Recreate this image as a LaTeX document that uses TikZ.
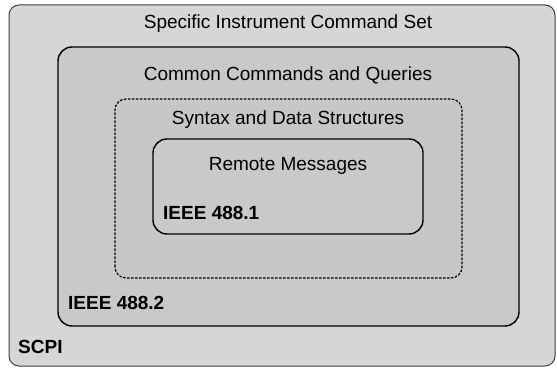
\documentclass[tikz,border=0pt]{standalone}
\usepackage{fontspec}
\setmainfont{Liberation Sans}
\tikzset{
  layer/.style={draw=black, line width=1.4pt, rounded corners=14pt},
  label/.style={font=\fontsize{19}{22}\selectfont, inner sep=0pt},
  tag/.style={font=\fontsize{19}{22}\selectfont\bfseries, inner sep=0pt, anchor=west}
}
\begin{document}
\begin{tikzpicture}[x=1pt,y=1pt]
      \useasboundingbox (0,0) rectangle (557,367);
      \fill[white] (0,0) rectangle (557,367);
      \draw[fill=black!16, draw=black!75, line width=1pt, rounded corners=10pt] (9,1) rectangle (555,362);
      \draw[layer, fill=black!21] (58,41) rectangle (519,320);
      \draw[layer, fill=black!22, line width=1.2pt, dash pattern=on 2.5pt off 1.5pt, rounded corners=11pt] (115,89) rectangle (462,268);
      \draw[layer, fill=black!21] (153,133) rectangle (423,228);
      \node[label] (scs) at (288,343) {Specific Instrument Command Set};
      \node[label] (ccq) at (288,292) {Common Commands and Queries};
      \node[label] (sds) at (288,247) {Syntax and Data Structures};
      \node[label] (rm) at (288,201) {Remote Messages};
      \node[tag] (ieeeone) at (163,154) {IEEE 488.1};
      \node[tag] (ieeetwo) at (68,64) {IEEE 488.2};
      \node[tag] (scpi) at (18,20) {SCPI};
     \end{tikzpicture}
\end{document}
